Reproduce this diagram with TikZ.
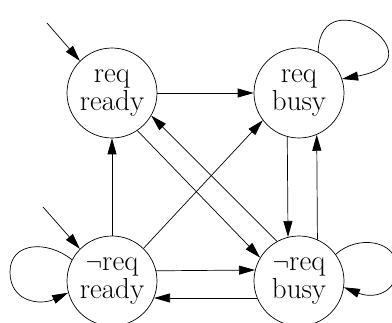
\documentclass[tikz,border=0pt]{standalone}
\usetikzlibrary{arrows.meta}
\begin{document}
\begin{tikzpicture}[x=1pt,y=-1pt,
  state/.style={circle,draw,minimum size=90pt,inner sep=0pt,align=center,
    font=\fontsize{29}{28}\selectfont,line width=0.7pt},
  edge/.style={-{Triangle[length=16pt,width=9pt]},line width=0.7pt}]
\useasboundingbox (0,0) rectangle (392,323);
\node[state] (RR) at (112,93) {req\\ready};
\node[state] (RB) at (299,93) {req\\busy};
\node[state] (NR) at (112,281) {$\neg$req\\ready};
\node[state] (NB) at (299,281) {$\neg$req\\busy};
\coordinate (i1) at (47,23);
\coordinate (i2) at (43,207);
\coordinate (nrl) at (10,272);
\coordinate (nbl) at (397,268);
\draw[edge] (i1) -- (RR.135);
\draw[edge] (i2) -- (NR.135);
\draw[edge] (RR) -- (RB);
\draw[edge] (NR) -- (RR);
\draw[edge] (NR.46) -- (RB.217);
\draw[edge] (RR.-56) -- (NB.149);
\draw[edge] (NB.119) -- (RR.-30);
\draw[edge] (RB.255.9) -- (NB.104.1);
\draw[edge] (NB.66.4) -- (RB.293.6);
\draw[edge] (NR.13.2) -- (NB.166.8);
\draw[edge] (NB.202.2) -- (NR.-22.2);
\draw[edge] (RB.65) .. controls +(2,-77) and +(103,-19) .. (RB.18);
\draw[edge] (NR.152) .. controls +(-25,-20) and +(0,-30) .. (nrl)
  .. controls +(0,30) and +(-28,13) .. (NR.195);
\draw[edge] (NB.36) .. controls +(22,-20) and +(0,-28) .. (nbl)
  .. controls +(0,25) and +(30,12) .. (NB.-8);
\end{tikzpicture}
\end{document}
